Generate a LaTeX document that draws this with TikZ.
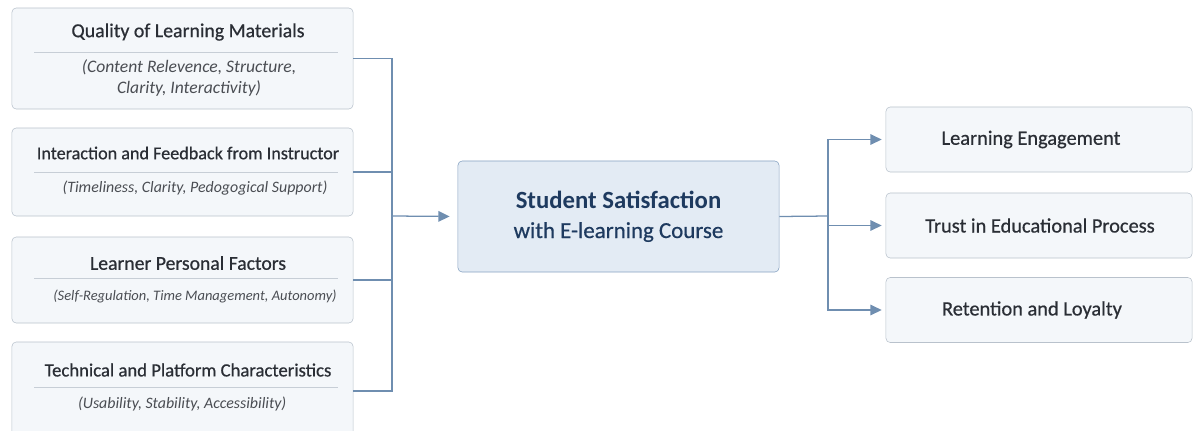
\documentclass[tikz,border=0pt]{standalone}
\usepackage{fontspec}
\setmainfont{Carlito}
\newfontfamily\medfont{Carlito}[FakeBold=0.6]
\usetikzlibrary{arrows.meta}
\definecolor{boxfill}{HTML}{F4F7FA}
\definecolor{boxline}{HTML}{B9C2CC}
\definecolor{corefill}{HTML}{E3EBF4}
\definecolor{coreline}{HTML}{86A2C2}
\definecolor{linkcol}{HTML}{6F8EB0}
\definecolor{headcol}{HTML}{2A2E35}
\definecolor{navy}{HTML}{1E3A5F}
\tikzset
{
  factor/.style={draw=boxline,fill=boxfill,rounded corners=3pt,minimum width=8.525cm,inner sep=0pt},
  outcome/.style={draw=boxline,fill=boxfill,rounded corners=3pt,minimum width=7.65cm,minimum height=1.625cm,
    inner sep=0pt},
  otext/.style={text=headcol,font=\medfont\fontsize{14.5}{17}\selectfont,inner sep=0pt},
  core/.style={draw=coreline,fill=corefill,rounded corners=3pt,minimum width=8.025cm,minimum height=2.775cm,
    align=center,text=navy},
  head/.style={text=headcol,inner sep=0pt},
  sub/.style={text=headcol!85,align=center,inner sep=0pt},
  sep/.style={draw=boxline!80,line width=0.5pt},
  link/.style={draw=linkcol,line width=0.9pt},
  tip/.style={-{Triangle[length=8pt,width=7.5pt]}}
}
\begin{document}
\begin{tikzpicture}[x=0.025cm,y=-0.025cm]
\useasboundingbox (0,0) rectangle (1193,430);
% left column: the four factors
\foreach \i/\t/\b/\ty/\ly/\sx/\sy/\hs/\ss/\head/\sub in
{
  1/8/109/32/52/189/78/14.1/12.5/{Quality of Learning Materials}/{(Content Relevence, Structure,\\Clarity, Interactivity)},
  2/128/216/153/172/195/188/12.9/11.3/{Interaction and Feedback from Instructor}/{(Timeliness, Clarity, Pedogogical Support)},
  3/237/323/263/278/195/296/14/10.3/{Learner Personal Factors}/{(Self-Regulation, Time Management, Autonomy)},
  4/342/440/370/387/184/404/13.3/11.3/{Technical and Platform Characteristics}/{(Usability, Stability, Accessibility)}
}
{
  \node[factor,minimum height={(\b-\t)*0.025cm}] (f\i) at (182.5,{(\t+\b)/2}) {};
  \node[head,font=\medfont\fontsize{\hs}{17}\selectfont] (h\i) at (188,\ty) {\head};
  \draw[sep] (34,\ly) -- (338,\ly);
  \node[sub,font=\fontsize{\ss}{15}\selectfont\itshape] (s\i) at (\sx,\sy) {\sub};
}
% centre
\node[core] (sat) at (618.5,216.5)
  {{\fontsize{17.6}{21}\selectfont\bfseries Student Satisfaction}\\[9pt]
   {\medfont\fontsize{16.3}{19}\selectfont with E-learning Course}};
% right column: the outcomes
\node[outcome] (o1) at (1039,139.5) {};
\node[outcome] (o2) at (1039,225.5) {};
\node[outcome] (o3) at (1039,310)   {};
\node[otext] (t1) at (1031,139.5) {Learning Engagement};
\node[otext] (t2) at (1040,225.5) {Trust in Educational Process};
\node[otext] (t3) at (1032,310)   {Retention and Loyalty};
% connectors
\coordinate (bus)   at (392,216);
\coordinate (split) at (828,216);
\foreach \i in {1,...,4}
  \draw[link] (f\i.east) -| (bus);
\draw[link,tip,shorten >=0.2cm] (bus) -- (sat.west);
\draw[link] (sat.east) -- (split);
\foreach \j in {1,2,3}
  \draw[link,tip,shorten >=0.1cm] (split) |- (o\j.west);
\end{tikzpicture}
\end{document}
